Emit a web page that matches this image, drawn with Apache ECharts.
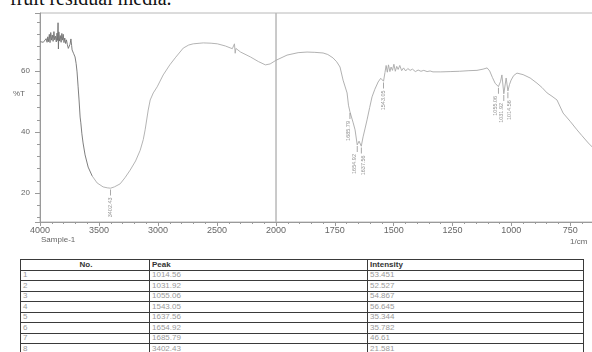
<!DOCTYPE html>
<html>
<head>
<meta charset="utf-8">
<script src="https://cdn.jsdelivr.net/npm/echarts@6/dist/echarts.min.js"></script>
<style>
  html, body { margin: 0; padding: 0; background: #fff; }
  body { width: 592px; height: 352px; overflow: hidden; position: relative; }
  #caption { position: absolute; left: 10px; top: -12px; font: 20px/20px 'Liberation Serif', 'DejaVu Serif', serif; color: #111; white-space: nowrap; }
  #chart { position: absolute; left: 0; top: 0; width: 592px; height: 256px; }
  #peaks { position: absolute; left: 20px; top: 259px; width: 563px; border-collapse: collapse; table-layout: fixed;
           font: 8px 'Liberation Sans', Arial, sans-serif; border: 1.5px solid #222; }
  #peaks tr { height: 10.5px; }
  #peaks td, #peaks th { border: 1px solid #3a3a3a; padding: 0 0 0 2px; line-height: 8px; text-align: left; color: #9a9a9a; font-weight: normal; overflow: hidden; white-space: nowrap; }
  #peaks th { font-weight: bold; color: #333; }
  #peaks th.c { text-align: center; }
</style>
</head>
<body>
<div id="caption">fruit residual media.</div>
<div id="chart"></div>
<table id="peaks">
  <colgroup><col style="width:129px"><col style="width:218px"><col style="width:216px"></colgroup>
  <thead><tr><th class="c">No.</th><th>Peak</th><th>Intensity</th></tr></thead>
  <tbody></tbody>
</table>
<script>
// Peak table (also used for the peak labels on the spectrum)
const peakNo = [1, 2, 3, 4, 5, 6, 7, 8];
const peakWave = [1014.56, 1031.92, 1055.06, 1543.05, 1637.56, 1654.92, 1685.79, 3402.43];
const peakIntensity = [53.451, 52.527, 54.867, 56.645, 35.344, 35.782, 46.61, 21.581];

// Spectrum: wavenumber (1/cm) and %T
const waveNumbers = [
  3996, 3988, 3980, 3972, 3964, 3956, 3948, 3940, 3934, 3928, 3921, 3915, 3909, 3902, 3896, 3889,
  3882, 3876, 3869, 3862, 3856, 3851, 3847, 3844, 3840, 3834, 3828, 3821, 3815, 3809, 3803, 3797,
  3790, 3783, 3776, 3768, 3760, 3752, 3745, 3738, 3732, 3728, 3716, 3703, 3694, 3686, 3677, 3669,
  3660, 3654, 3645, 3635, 3618, 3592, 3558, 3516, 3465, 3430, 3402.43, 3370, 3321, 3280, 3236, 3190,
  3151, 3125, 3109, 3083, 3066, 3040, 3007, 2956, 2900, 2854, 2786, 2740, 2701, 2616, 2550, 2497,
  2430, 2370, 2360, 2352, 2346, 2340, 2300, 2217, 2150, 2090, 2050, 2000,
  1953, 1906, 1868, 1835, 1800, 1780, 1758, 1742, 1728, 1715, 1698, 1692, 1685.79, 1680, 1672, 1664,
  1654.92, 1647, 1637.56, 1630, 1622, 1613, 1602, 1592, 1580, 1566, 1555, 1548, 1543.05, 1537, 1532, 1527,
  1522, 1516, 1511, 1505, 1499, 1493, 1487, 1481, 1474, 1466, 1458, 1449, 1440, 1430, 1420, 1408,
  1396, 1384, 1372, 1358, 1345, 1333, 1300, 1260, 1220, 1180, 1146, 1120, 1103, 1092, 1080, 1069,
  1055.06, 1046, 1040, 1031.92, 1022, 1014.56, 1008, 1001, 990, 976, 950, 920, 891, 870, 848, 827,
  806, 780, 750, 721, 700, 673, 655
];
const transmittance = [
  69.6, 69.3, 69.8, 69.4, 70.0, 69.5, 70.6, 69.4, 71.2, 69.6, 72.0, 69.3, 72.6, 70.1, 71.8, 69.7,
  72.9, 70.2, 71.4, 69.5, 72.4, 70.0, 75.8, 67.2, 72.8, 69.8, 71.6, 69.4, 72.3, 70.1, 72.0, 69.3,
  70.8, 69.0, 70.2, 68.6, 67.4, 66.9, 68.8, 70.5, 68.4, 66.9, 65.8, 64.6, 62.5, 59.7, 54.8, 50.5,
  44.9, 43.0, 39.4, 36.4, 32.5, 28.5, 25.6, 23.3, 22.0, 21.7, 21.581, 22.0, 23.0, 25.0, 27.5, 30.5,
  34.0, 37.5, 40.7, 47.2, 50.5, 52.8, 54.8, 58.7, 62.0, 64.3, 67.5, 68.5, 68.9, 69.2, 69.1, 68.9,
  68.2, 67.3, 67.2, 68.9, 65.8, 67.4, 66.2, 64.6, 63.1, 62.0, 62.3, 63.5,
  65.2, 66.0, 66.2, 66.1, 65.9, 65.4, 64.3, 63.0, 61.3, 57.0, 52.8, 48.8, 46.61, 47.0, 43.0, 40.7,
  35.782, 37.0, 35.344, 38.4, 41.0, 44.0, 48.0, 51.5, 54.0, 56.4, 57.6, 57.2, 56.645, 59.5, 61.8, 59.6,
  62.0, 59.8, 61.3, 60.2, 62.2, 59.9, 61.5, 60.5, 61.8, 60.1, 61.0, 60.0, 60.8, 60.2, 60.6, 59.8,
  60.3, 59.9, 60.2, 59.8, 60.0, 59.7, 59.7, 59.8, 59.9, 60.1, 60.2, 60.6, 61.0, 60.0, 57.8, 56.0,
  54.867, 56.5, 58.7, 52.527, 57.7, 53.451, 55.5, 57.0, 58.5, 59.3, 58.8, 57.7, 56.0, 54.6, 52.8, 51.7,
  50.5, 46.2, 43.5, 40.7, 38.8, 36.4, 35.0
];

// Axis ticks (left part is 4000-2000, right part 2000-500 at double scale)
const yRange = [10.5, 79];
const leftTicks = [4000, 3500, 3000, 2500, 2000];
const rightTicks = [2000, 1750, 1500, 1250, 1000, 750, 500];

// sideways shift (px) of crowded peak labels, by peak index
const labelShift = { 0: 2, 1: -2, 2: -3, 4: 2, 5: -2.5, 6: -1 };

// Fill the peak table
const tbody = document.querySelector('#peaks tbody');
peakNo.forEach((n, i) => {
  const tr = document.createElement('tr');
  [n, peakWave[i].toFixed(2), String(peakIntensity[i])].forEach((txt) => {
    const td = document.createElement('td');
    td.textContent = txt;
    tr.appendChild(td);
  });
  tbody.appendChild(tr);
});

const spectrum = waveNumbers.map((w, i) => [w, transmittance[i]]);
const darkData = spectrum.filter((p) => p[0] >= 3558);
const leftData = spectrum.filter((p) => p[0] >= 2000 && p[0] <= 3558);
const rightData = spectrum.filter((p) => p[0] <= 2000);

const axisGray = '#9a9a9a';
const labelFont = { fontSize: 9, color: '#666', fontFamily: 'Liberation Sans, Arial, sans-serif' };

const xAxisBase = (gridIndex, ticks) => ({
  gridIndex,
  type: 'value',
  inverse: true,
  min: Math.min(...ticks),
  max: Math.max(...ticks),
  interval: 250 * (gridIndex === 0 ? 2 : 1),
  axisLine: { show: true, lineStyle: { color: axisGray, width: 1 } },
  axisTick: { show: true, length: 4, lineStyle: { color: axisGray } },
  minorTick: { show: true, splitNumber: 5, length: 2, lineStyle: { color: axisGray } },
  splitLine: { show: false },
  axisLabel: { ...labelFont, margin: 4, formatter: (v) => (gridIndex === 1 && v === 2000 ? '' : String(v)) },
});

const yAxisBase = (gridIndex) => ({
  gridIndex,
  type: 'value',
  min: yRange[0],
  max: yRange[1],
  splitNumber: 3,
  show: gridIndex === 0,
  axisLine: { show: true, lineStyle: { color: axisGray } },
  axisTick: { show: true, length: 5, lineStyle: { color: axisGray } },
  minorTick: { show: true, splitNumber: 5, length: 3, lineStyle: { color: axisGray } },
  splitLine: { show: false },
  axisLabel: { ...labelFont, fontSize: 8, margin: 10, showMinLabel: false, showMaxLabel: false },
});

const lineSeries = (gridIndex, data, color) => ({
  type: 'line',
  xAxisIndex: gridIndex,
  yAxisIndex: gridIndex,
  data,
  showSymbol: false,
  lineStyle: { width: 0.9, color },
  itemStyle: { color },
  z: 2,
});

// labels are turned 90deg about their anchor, so a y offset moves them sideways
const peakSeries = (gridIndex, keep) => ({
  type: 'scatter',
  xAxisIndex: gridIndex,
  yAxisIndex: gridIndex,
  symbol: 'rect',
  symbolSize: [0.8, 6],
  symbolOffset: [0, '70%'],
  itemStyle: { color: '#777' },
  data: peakWave
    .map((w, i) => ({ value: [w, peakIntensity[i]], label: { offset: [0, labelShift[i] || 0] } }))
    .filter((d) => keep(d.value[0])),
  label: {
    show: true,
    position: 'bottom',
    distance: 2,
    rotate: 90,
    align: 'right',
    verticalAlign: 'middle',
    fontSize: 5.5,
    color: '#777',
    fontFamily: 'Liberation Sans, Arial, sans-serif',
    formatter: (p) => p.value[0].toFixed(2),
  },
  z: 3,
});

const chart = echarts.init(document.getElementById('chart'));
chart.setOption({
  animation: false,
  grid: [
    { left: 40, top: 13, width: 236, height: 209, show: true, borderColor: '#b8b8b8', borderWidth: 1, outerBoundsMode: 'none', containLabel: false },
    { left: 276, top: 13, width: 353, height: 209, show: true, borderColor: '#b8b8b8', borderWidth: 1, outerBoundsMode: 'none', containLabel: false },
  ],
  xAxis: [xAxisBase(0, leftTicks), xAxisBase(1, rightTicks)],
  yAxis: [yAxisBase(0), yAxisBase(1)],
  series: [
    lineSeries(0, darkData, '#707070'),
    lineSeries(0, leftData, '#ababab'),
    lineSeries(1, rightData, '#a8a8a8'),
    peakSeries(0, (w) => w >= 2000),
    peakSeries(1, (w) => w < 2000),
  ],
  graphic: [
    { type: 'text', left: 13, top: 90, style: { text: '%T', ...labelFont, fontSize: 8, fill: '#666' } },
    { type: 'text', left: 41, top: 236, style: { text: 'Sample-1', ...labelFont, fontSize: 8, fill: '#666' } },
    { type: 'text', left: 570, top: 238, style: { text: '1/cm', ...labelFont, fontSize: 8, fill: '#666' } },
  ],
});
</script>
</body>
</html>
